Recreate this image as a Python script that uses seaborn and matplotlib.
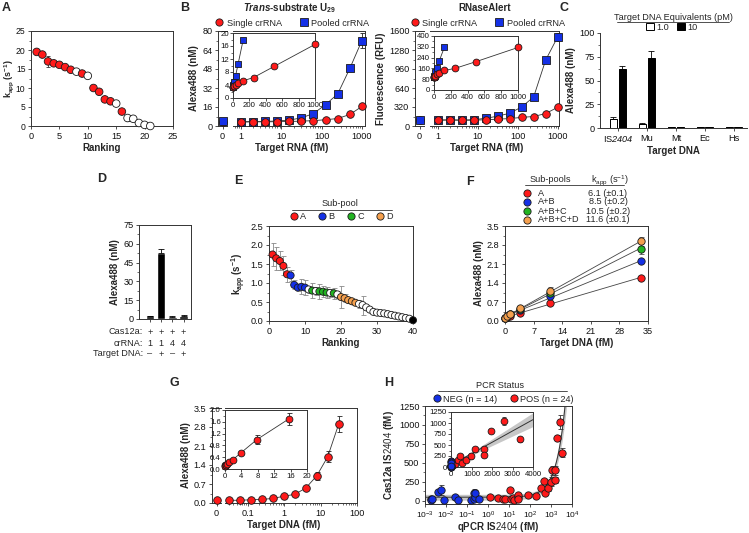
import numpy as np
import pandas as pd
import matplotlib
matplotlib.use("Agg")
import matplotlib.pyplot as plt
import matplotlib.transforms as mtransforms
import seaborn as sns
from matplotlib.ticker import AutoMinorLocator, NullFormatter, FuncFormatter, FormatStrFormatter
from matplotlib.lines import Line2D
from matplotlib.patches import Patch

# ---------------- DATA ----------------
# A
a_rank = list(range(1, 22))
a_kapp = [19.5, 18.8, 17.0, 16.5, 16.1, 15.5, 14.8, 14.3, 13.8, 13.2, 10.0, 9.0, 7.0, 6.5, 5.9, 3.8, 2.1, 1.9, 0.8, 0.3, 0.0]
a_err = [0.3, 0.3, 1.5, 0.3, 0.3, 0.3, 0.3, 0.3, 0.3, 0.3, 0.4, 0.3, 0.3, 0.3, 0.3, 0.3, 0.8, 0.3, 0.3, 0.3, 0.2]
a_selected = [1, 1, 1, 1, 1, 1, 1, 0, 1, 0, 1, 1, 1, 1, 0, 1, 0, 0, 0, 0, 0]

# B (both panels share target concentrations)
b_target = [0, 0.98, 1.95, 3.9, 7.8, 15.6, 31.25, 62.5, 125, 250, 500, 1000]
b_single = [3.5, 3.4, 3.5, 3.5, 3.6, 3.8, 4.1, 4.5, 5.3, 6.3, 9.7, 16.5]
b_pooled = [3.8, 3.5, 3.7, 3.9, 4.2, 5.0, 6.8, 10.5, 18.0, 27.0, 48.5, 72.0]
b_pooled_err = [0.3, 0.3, 0.3, 0.3, 0.3, 0.3, 0.3, 0.3, 0.5, 0.8, 2.5, 6.0]
r_single = [100, 100, 100, 98, 98, 105, 115, 125, 145, 160, 210, 315]
r_pooled = [100, 100, 103, 100, 105, 130, 165, 215, 320, 490, 1110, 1500]
r_pooled_err = [5, 5, 5, 5, 5, 5, 8, 10, 15, 20, 30, 60]

# C
c_targets = ["IS$\\mathsf{2404}$", "Mu", "Mt", "Ec", "Hs"]
c_equiv = ["1.0", "10"]
c_low = [9.5, 4.0, 0.8, 0.6, 0.7]
c_low_err = [2.0, 0.8, 0.3, 0.3, 0.3]
c_high = [62.5, 73.5, 1.0, 0.9, 0.9]
c_high_err = [3.0, 7.5, 0.4, 0.3, 0.3]

# D
d_conditions = ["c1", "c2", "c3", "c4"]
d_values = [2.0, 53.0, 1.8, 2.4]
d_err = [0.4, 3.0, 0.4, 0.5]
d_cas12a = ["+", "+", "+", "+"]
d_crrna = ["1", "1", "4", "4"]
d_target = ["\u2013", "+", "\u2013", "+"]
d_rows = ["Cas12a:", "crRNA:", "Target DNA:"]

# E
e_rank = list(range(1, 41))
e_kapp = [1.75, 1.65, 1.58, 1.45, 1.23, 1.20, 0.95, 0.88, 0.90, 0.88,
          0.83, 0.80, 0.79, 0.78, 0.77, 0.75, 0.74, 0.73, 0.70, 0.63,
          0.60, 0.55, 0.52, 0.48, 0.45, 0.42, 0.36, 0.30, 0.24, 0.22,
          0.21, 0.20, 0.18, 0.16, 0.14, 0.12, 0.10, 0.08, 0.06, 0.02]
e_err = [0.30, 0.30, 0.25, 0.25, 0.20, 0.15, 0.12, 0.10, 0.20, 0.20,
         0.10, 0.20, 0.10, 0.20, 0.15, 0.15, 0.10, 0.15, 0.10, 0.28,
         0.10, 0.05, 0.05, 0.05, 0.10, 0.25, 0.05, 0.05, 0.03, 0.03,
         0.03, 0.03, 0.03, 0.03, 0.03, 0.03, 0.03, 0.03, 0.03, 0.02]
e_pool = ["A"] * 5 + ["B"] * 5 + ["none", "C", "none", "C", "C", "C", "none", "C", "none"] + \
         ["D"] * 5 + ["none"] * 15 + ["ctrl"]
e_pool_labels = ["A", "B", "C", "D"]

# F
f_target = [0, 0.41, 1.23, 3.7, 11.1, 33.3]
f_subpools = ["A", "A+B", "A+B+C", "A+B+C+D"]
f_A = [0.10, 0.15, 0.20, 0.30, 0.65, 1.60]
f_AB = [0.10, 0.18, 0.27, 0.40, 0.92, 2.20]
f_ABC = [0.10, 0.18, 0.25, 0.45, 1.05, 2.67]
f_ABCD = [0.10, 0.18, 0.25, 0.47, 1.12, 2.93]
f_err_ABC = [0.02, 0.02, 0.02, 0.03, 0.08, 0.20]
f_err_ABCD = [0.02, 0.02, 0.02, 0.03, 0.12, 0.15]
f_kapp_text = ["6.1 (\u00b10.1)", "8.5 (\u00b10.2)", "10.5 (\u00b10.2)", "11.6 (\u00b10.1)"]

# G
g_target = [0, 0.0305, 0.061, 0.122, 0.244, 0.488, 0.977, 1.95, 3.9, 7.8, 15.6, 31.25]
g_signal = [0.12, 0.10, 0.10, 0.12, 0.13, 0.17, 0.25, 0.32, 0.55, 1.00, 1.70, 2.90]
g_err = [0.03, 0.03, 0.03, 0.03, 0.03, 0.03, 0.03, 0.03, 0.05, 0.15, 0.20, 0.30]

# H
h_neg_x = [0.0019, 0.0020, 0.0021, 0.004, 0.0058, 0.008, 0.026, 0.037, 0.15, 0.21, 0.22, 0.24, 0.25, 0.36]
h_neg_y = [15, 5, 20, 115, 140, 10, 45, 10, 10, 20, 105, 45, 95, 18]
h_neg_yerr = [10, 5, 10, 30, 70, 10, 20, 10, 10, 15, 50, 20, 40, 10]
h_pos_x = [1.2, 3.0, 5.0, 6.3, 10.6, 12, 15, 17, 27, 27, 28, 83, 187, 325, 455, 537, 748, 975,
           1155, 1626, 1626, 1950, 2570, 3380]
h_pos_y = [44, 31, 20, 18, 140, 18, 30, 9, 44, 75, 18, 79, 61, 170, 255, 100, 170, 247,
           400, 400, 270, 826, 1042, 633]
h_pos_yerr = [10, 10, 10, 10, 30, 10, 10, 10, 20, 20, 10, 20, 20, 20, 30, 30, 40, 60,
              60, 60, 40, 40, 90, 60]

# ---------------- STYLE ----------------
RED, BLUE, GREEN, ORANGE = "#FF1A1A", "#1430E6", "#22B422", "#F5A04E"
EDGE = "#1a1a1a"
TICK = 6.6
LAB = 7
INS = 5.6
LEG = 6.6
MS = 30
MS_IN = 24
sns.set_theme(style="ticks")
plt.rcParams.update({
    "font.family": ["Liberation Sans", "DejaVu Sans"],
    "font.size": TICK,
    "axes.labelsize": LAB, "axes.labelweight": "bold", "axes.labelpad": 2,
    "xtick.labelsize": TICK, "ytick.labelsize": TICK,
    "axes.linewidth": 0.7, "axes.edgecolor": "#333333",
    "xtick.major.size": 2.5, "ytick.major.size": 2.5,
    "xtick.minor.size": 1.5, "ytick.minor.size": 1.5,
    "xtick.major.width": 0.6, "ytick.major.width": 0.6,
    "xtick.minor.width": 0.5, "ytick.minor.width": 0.5,
    "xtick.major.pad": 1.5, "ytick.major.pad": 1.5,
    "xtick.color": "#333333", "ytick.color": "#333333",
    "xtick.labelcolor": "#111111", "ytick.labelcolor": "#111111",
    "mathtext.fontset": "custom",
    "mathtext.rm": "Liberation Sans",
    "mathtext.it": "Liberation Sans:italic:bold",
    "mathtext.bf": "Liberation Sans:bold",
    "mathtext.sf": "Liberation Sans:italic",
    "mathtext.default": "regular",
})

W, H = 749, 533
fig = plt.figure(figsize=(W / 100, H / 100), dpi=100)


def fx(x):
    return x / W


def fy(y):
    return 1 - y / H


def add_ax(l, t, r, b):
    return fig.add_axes([l / W, 1 - b / H, (r - l) / W, (b - t) / H])


def series(ax, x, y, color, marker, yerr=None, s=MS, line=True, clip=False):
    x = np.asarray(x, float)
    y = np.asarray(y, float)
    if yerr is not None:
        ax.errorbar(x, y, yerr=yerr, fmt="none", ecolor="#222222", elinewidth=0.6,
                    capsize=1.8, capthick=0.6, zorder=2)
    if line and len(x) > 1:
        sns.lineplot(x=x, y=y, color="#333333", linewidth=0.6, ax=ax, errorbar=None, zorder=1)
    sns.scatterplot(x=x, y=y, color=color, marker=marker, s=s, edgecolor=EDGE, linewidth=0.6,
                    ax=ax, zorder=3, legend=False, clip_on=clip)


def broken(l, t, r, b, zr, ll, ylim, yticks, xlim_log):
    ax0 = add_ax(l, t, zr, b)
    ax1 = add_ax(ll, t, r, b)
    ax0.set_xlim(-1, 1)
    ax0.set_xticks([0])
    ax0.set_xticklabels(["0"])
    ax0.spines["right"].set_visible(False)
    ax1.spines["left"].set_visible(False)
    ax1.set_xscale("log")
    ax1.set_xlim(*xlim_log)
    ax1.xaxis.set_major_formatter(FuncFormatter(lambda v, p: f"{v:g}"))
    ax1.xaxis.set_minor_formatter(NullFormatter())
    ax1.tick_params(axis="y", which="both", left=False, labelleft=False)
    for a in (ax0, ax1):
        a.set_ylim(*ylim)
        a.set_yticks(yticks)
    ax0.yaxis.set_minor_locator(AutoMinorLocator(2))
    return ax0, ax1


def inset_filter(x, y, xmax, ymax, err=None):
    keep = [i for i in range(len(x)) if x[i] <= xmax and y[i] <= ymax]
    xs = [x[i] for i in keep]
    ys = [y[i] for i in keep]
    es = [err[i] for i in keep] if err is not None else None
    return xs, ys, es


def panel_label(x, y, s):
    fig.text(fx(x), fy(y), s, fontsize=9, weight="bold", ha="left", va="center")


def underline(x1, x2, y):
    fig.add_artist(Line2D([fx(x1), fx(x2)], [fy(y), fy(y)], transform=fig.transFigure,
                          color="#333333", lw=0.6))


def mk(color, marker="o", size=5.2):
    return Line2D([], [], marker=marker, ls="none", markerfacecolor=color,
                  markeredgecolor=EDGE, markersize=size, markeredgewidth=0.6)


def style_inset(ax):
    ax.tick_params(labelsize=INS, length=2, pad=1)
    ax.yaxis.set_minor_locator(AutoMinorLocator(2))
    ax.set_xlabel("")
    ax.set_ylabel("")


# ---------------- PANEL A ----------------
axA = add_ax(31, 31, 173, 126)
dfA = pd.DataFrame(dict(rank=a_rank, kapp=a_kapp, err=a_err, sel=a_selected))
axA.errorbar(dfA["rank"], dfA["kapp"], yerr=dfA["err"], fmt="none", ecolor="#333333",
             elinewidth=0.6, capsize=1.5, capthick=0.6, zorder=1)
sns.scatterplot(data=dfA, x="rank", y="kapp", hue="sel", palette={1: RED, 0: "white"},
                edgecolor=EDGE, linewidth=0.6, s=MS, legend=False, ax=axA, zorder=3, clip_on=False)
axA.set(xlim=(0, 25), ylim=(0, 25), xticks=range(0, 26, 5), yticks=range(0, 26, 5))
axA.yaxis.set_minor_locator(AutoMinorLocator(2))
axA.tick_params(axis="y", labelsize=6.2)
axA.set_xlabel("Ranking")
axA.set_ylabel("k$_{app}$ (s$^{-1}$)", fontsize=6.4)
axA.yaxis.set_label_coords(-0.105, 0.5)
panel_label(2, 8, "A")

# ---------------- PANEL B (two sub-panels) ----------------
b_x = np.array(b_target, float)
nz = b_x > 0

for (l, zr, ll, r, xr, ylim, yt, sing, pool, perr, title, ylab, ins_box, ins_y, ins_yt) in [
    (218, 227, 233, 365, (0.63, 1190), (0, 80), range(0, 81, 16), b_single, b_pooled, b_pooled_err,
     "$\\mathit{Trans}$-substrate U$_{29}$", "Alexa488 (nM)", (233, 33, 315, 98), 20, range(0, 21, 4)),
    (415, 424, 430, 559, (0.63, 1080), (0, 1600), range(0, 1601, 320), r_single, r_pooled, r_pooled_err,
     "RNaseAlert", "Fluorescence (RFU)", (434, 36, 518, 90), 400, range(0, 401, 80)),
]:
    ax0, ax1 = broken(l, 31, r, 126, zr, ll, ylim, yt, xr)
    sing = np.asarray(sing, float)
    pool = np.asarray(pool, float)
    perr = np.asarray(perr, float)
    series(ax0, b_x[~nz], sing[~nz], RED, "o", line=False)
    series(ax0, b_x[~nz], pool[~nz], BLUE, "s", line=False)
    series(ax1, b_x[nz], pool[nz], BLUE, "s", yerr=perr[nz])
    series(ax1, b_x[nz], sing[nz], RED, "o")
    ax0.set_ylabel(ylab)
    fig.text(fx((l + r) / 2), fy(148), "Target RNA (fM)", ha="center", va="center",
             fontsize=LAB, weight="bold")
    fig.text(fx((l + r) / 2 - 2), fy(8), title, ha="center", va="center", fontsize=LAB, weight="bold")
    fig.legend([mk(RED), mk(BLUE, "s")], ["Single crRNA", "Pooled crRNA"], loc="center",
               bbox_to_anchor=(fx((l + r) / 2), fy(23)), ncol=2, frameon=False, fontsize=LEG,
               handletextpad=0.2, columnspacing=1.8, handlelength=1.2, borderpad=0)
    ins = add_ax(*ins_box)
    ins.set(xlim=(0, 1000), ylim=(0, ins_y), xticks=range(0, 1001, 200), yticks=ins_yt)
    px, py, pe = inset_filter(list(b_x), list(pool), 1000, ins_y)
    sx, sy, _ = inset_filter(list(b_x), list(sing), 1000, ins_y)
    series(ins, px, py, BLUE, "s", s=MS_IN)
    series(ins, sx, sy, RED, "o", s=MS_IN)
    style_inset(ins)

panel_label(180, 8, "B")

# ---------------- PANEL C ----------------
axC = add_ax(600, 33, 747, 128)
dfC = pd.DataFrame({
    "target": c_targets * 2,
    "equiv": [c_equiv[0]] * 5 + [c_equiv[1]] * 5,
    "signal": c_low + c_high,
    "err": c_low_err + c_high_err,
})
sns.barplot(data=dfC, x="target", y="signal", hue="equiv", hue_order=c_equiv,
            palette={c_equiv[0]: "white", c_equiv[1]: "black"}, edgecolor="black", linewidth=0.7,
            width=0.62, gap=0.12, errorbar=None, saturation=1, ax=axC, legend=False)
for cont, errs in zip(axC.containers, [c_low_err, c_high_err]):
    xs = [p.get_x() + p.get_width() / 2 for p in cont]
    hs = [p.get_height() for p in cont]
    axC.errorbar(xs, hs, yerr=[[0] * len(errs), errs], fmt="none", ecolor="black",
                 elinewidth=0.6, capsize=2, capthick=0.6, zorder=3)
axC.set(ylim=(0, 100), yticks=range(0, 101, 25), xlim=(-0.62, 4.45))
axC.yaxis.set_minor_locator(AutoMinorLocator(2))
sns.despine(ax=axC)
axC.set_xlabel("Target DNA")
axC.set_ylabel("Alexa488 (nM)")
fig.text(fx(673), fy(17), "Target DNA Equivalents (pM)", ha="center", va="center", fontsize=LEG)
underline(617, 729, 21.5)
fig.legend([Patch(facecolor="white", edgecolor="black", lw=0.7),
            Patch(facecolor="black", edgecolor="black", lw=0.7)], c_equiv,
           loc="center", bbox_to_anchor=(fx(672), fy(27.5)), ncol=2, frameon=False, fontsize=LEG,
           handlelength=0.8, handleheight=0.8, handletextpad=0.3, columnspacing=0.9, borderpad=0)
panel_label(560, 8, "C")

# ---------------- PANEL D ----------------
axD = add_ax(139, 225, 191, 319)
sns.barplot(x=d_conditions, y=d_values, color="black", width=0.75, saturation=1,
            errorbar=None, ax=axD)
axD.errorbar(list(range(4)), d_values, yerr=[[0] * 4, d_err], fmt="none", ecolor="black",
             elinewidth=0.6, capsize=2, capthick=0.6, zorder=3)
axD.set(ylim=(0, 75), yticks=range(0, 76, 15), xlim=(-0.95, 3.65))
axD.yaxis.set_minor_locator(AutoMinorLocator(2))
axD.set_xticks(range(4))
axD.set_xticklabels([])
axD.set_xlabel("")
axD.set_ylabel("Alexa488 (nM)")
trD = mtransforms.blended_transform_factory(axD.transData, fig.transFigure)
for row_label, row_vals, yy in zip(d_rows, [d_cas12a, d_crrna, d_target], [332, 343, 354]):
    fig.text(fx(143), fy(yy), row_label, ha="right", va="center", fontsize=TICK)
    for i, v in enumerate(row_vals):
        axD.text(i, fy(yy), v, transform=trD, ha="center", va="center", fontsize=TICK)
panel_label(97, 179, "D")

# ---------------- PANEL E ----------------
axE = add_ax(269, 226, 413, 321)
dfE = pd.DataFrame(dict(rank=e_rank, kapp=e_kapp, err=e_err, pool=e_pool))
axE.errorbar(dfE["rank"], dfE["kapp"], yerr=dfE["err"], fmt="none", ecolor="#888888",
             elinewidth=0.6, capsize=1.8, capthick=0.6, zorder=1)
e_pal = {"A": RED, "B": BLUE, "C": GREEN, "D": ORANGE, "none": "white", "ctrl": "black"}
sns.scatterplot(data=dfE, x="rank", y="kapp", hue="pool", palette=e_pal, edgecolor=EDGE,
                linewidth=0.6, s=MS - 4, legend=False, ax=axE, zorder=3, clip_on=False)
axE.set(xlim=(0, 40), ylim=(0, 2.5), xticks=range(0, 41, 10), yticks=np.arange(0, 2.51, 0.5))
axE.yaxis.set_major_formatter(FormatStrFormatter("%.1f"))
axE.yaxis.set_minor_locator(AutoMinorLocator(2))
axE.set_xlabel("Ranking")
axE.set_ylabel("k$_{app}$ (s$^{-1}$)")
fig.text(fx(340), fy(204), "Sub-pool", ha="center", va="center", fontsize=LEG)
underline(292, 392, 209.5)
fig.legend([mk(e_pal[p]) for p in e_pool_labels], e_pool_labels, loc="center",
           bbox_to_anchor=(fx(341), fy(216.5)), ncol=4, frameon=False, fontsize=LEG,
           handletextpad=0.15, columnspacing=1.3, handlelength=1.0, borderpad=0)
panel_label(234, 181, "E")

# ---------------- PANEL F ----------------
axF = add_ax(505, 226, 648, 321)
f_vals = [f_A, f_AB, f_ABC, f_ABCD]
f_errs = [None, None, f_err_ABC, f_err_ABCD]
f_cols = [RED, BLUE, GREEN, ORANGE]
for vals in f_vals:
    sns.regplot(x=np.array(f_target), y=np.array(vals), scatter=False, ci=None, color="#444444",
                line_kws={"lw": 0.6}, ax=axF)
for vals, errs, col in zip(f_vals, f_errs, f_cols):
    if errs is not None:
        axF.errorbar(f_target, vals, yerr=errs, fmt="none", ecolor="#555555", elinewidth=0.6,
                     capsize=1.8, capthick=0.6, zorder=2)
for vals, col in zip(f_vals, f_cols):
    sns.scatterplot(x=np.array(f_target), y=np.array(vals), color=col, s=MS - 2, edgecolor=EDGE,
                    linewidth=0.6, ax=axF, zorder=3, legend=False, clip_on=False)
axF.set(xlim=(0, 35), ylim=(0, 3.5), xticks=range(0, 36, 7), yticks=np.arange(0, 3.51, 0.7))
axF.yaxis.set_major_formatter(FormatStrFormatter("%.1f"))
axF.yaxis.set_minor_locator(AutoMinorLocator(2))
axF.set_xlabel("Target DNA (fM)")
axF.set_ylabel("Alexa488 (nM)")
fig.text(fx(550), fy(180), "Sub-pools", ha="center", va="center", fontsize=LEG)
fig.text(fx(610), fy(180), "k$_{app}$ (s$^{-1}$)", ha="center", va="center", fontsize=LEG)
underline(525, 624, 185.5)
for lab, txt, col, yy in zip(f_subpools, f_kapp_text, f_cols, [193, 202, 211, 220]):
    fig.add_artist(Line2D([fx(527)], [fy(yy)], marker="o", ls="none", markerfacecolor=col,
                          markeredgecolor=EDGE, markersize=5.2, markeredgewidth=0.6,
                          transform=fig.transFigure))
    fig.text(fx(538), fy(yy), lab, ha="left", va="center", fontsize=LEG)
    fig.text(fx(608), fy(yy), txt, ha="center", va="center", fontsize=LEG)
panel_label(466, 182, "F")

# ---------------- PANEL G ----------------
g_x = np.array(g_target, float)
g_y = np.array(g_signal, float)
g_e = np.array(g_err, float)
gnz = g_x > 0
gax0, gax1 = broken(212, 408, 357, 503, 221, 225, (0, 3.5), np.arange(0, 3.51, 0.7), (0.0234, 100))
gax0.yaxis.set_major_formatter(FormatStrFormatter("%.1f"))
series(gax0, g_x[~gnz], g_y[~gnz], RED, "o", line=False)
series(gax1, g_x[gnz], g_y[gnz], RED, "o", yerr=g_e[gnz])
gax0.set_ylabel("Alexa488 (nM)")
fig.text(fx(284), fy(525), "Target DNA (fM)", ha="center", va="center", fontsize=LAB, weight="bold")
insG = add_ax(225, 410, 307, 469)
insG.set(xlim=(0, 20), ylim=(0, 2.0), xticks=range(0, 21, 4), yticks=np.arange(0, 2.01, 0.4))
insG.yaxis.set_major_formatter(FormatStrFormatter("%.1f"))
gx_i, gy_i, ge_i = inset_filter(list(g_x), list(g_y), 20, 2.0, list(g_e))
series(insG, gx_i, gy_i, RED, "o", yerr=ge_i, s=MS_IN)
style_inset(insG)
panel_label(170, 383, "G")

# ---------------- PANEL H ----------------
axH = add_ax(425, 406, 572, 504)
all_x = np.array(h_neg_x + h_pos_x, float)
all_y = np.array(h_neg_y + h_pos_y, float)
slope, icpt = np.polyfit(all_x, all_y, 1)
n = len(all_x)
resid = all_y - (icpt + slope * all_x)
s_res = np.sqrt(np.sum(resid ** 2) / (n - 2))
sxx = np.sum((all_x - all_x.mean()) ** 2)


def fit_band(xg):
    yhat = icpt + slope * xg
    se = s_res * np.sqrt(1.0 / n + (xg - all_x.mean()) ** 2 / sxx)
    return yhat, yhat - 2.03 * se, yhat + 2.03 * se


xg = np.logspace(-3, 4, 300)
yh, lo, hi = fit_band(xg)
axH.set_xscale("log")
axH.fill_between(xg, lo, hi, color="#9a9a9a", alpha=0.55, lw=0, zorder=1)
sns.lineplot(x=xg, y=yh, color="#333333", lw=0.7, ax=axH, zorder=1.5)
axH.errorbar(h_neg_x, h_neg_y, yerr=h_neg_yerr, fmt="none", ecolor="#333333", elinewidth=0.6,
             capsize=1.8, capthick=0.6, zorder=2)
axH.errorbar(h_pos_x, h_pos_y, yerr=h_pos_yerr, fmt="none", ecolor="#333333", elinewidth=0.6,
             capsize=1.8, capthick=0.6, zorder=2)
sns.scatterplot(x=h_neg_x, y=h_neg_y, color=BLUE, s=MS - 2, edgecolor=EDGE, linewidth=0.6, ax=axH,
                zorder=3, legend=False)
sns.scatterplot(x=h_pos_x, y=h_pos_y, color=RED, s=MS - 2, edgecolor=EDGE, linewidth=0.6, ax=axH,
                zorder=3, legend=False)
axH.set(xlim=(1e-3, 1e4), ylim=(-45, 1250), yticks=range(0, 1251, 250))
axH.set_xticks([10.0 ** k for k in range(-3, 5)])
axH.xaxis.set_minor_formatter(NullFormatter())
axH.yaxis.set_minor_locator(AutoMinorLocator(2))
axH.tick_params(axis="x", labelsize=6)
axH.set_xlabel("")
fig.text(fx(498), fy(526.5), "qPCR IS$\\mathit{2404}$ (fM)", ha="center", va="center",
         fontsize=LAB, weight="bold")
axH.set_ylabel("Cas12a IS$\\mathit{2404}$ (fM)")

insH = add_ax(451, 412, 533, 467)
xl = np.linspace(0, 4000, 200)
yh2, lo2, hi2 = fit_band(xl)
insH.fill_between(xl, lo2, hi2, color="#9a9a9a", alpha=0.55, lw=0, zorder=1)
sns.lineplot(x=xl, y=yh2, color="#333333", lw=0.7, ax=insH, zorder=1.5)
insH.errorbar(h_pos_x, h_pos_y, yerr=h_pos_yerr, fmt="none", ecolor="#333333", elinewidth=0.6,
              capsize=1.5, capthick=0.6, zorder=2)
sns.scatterplot(x=h_pos_x, y=h_pos_y, color=RED, s=MS_IN, edgecolor=EDGE, linewidth=0.6, ax=insH,
                zorder=3, legend=False, clip_on=False)
sns.scatterplot(x=h_neg_x, y=h_neg_y, color=BLUE, s=MS_IN, edgecolor=EDGE, linewidth=0.6, ax=insH,
                zorder=3, legend=False, clip_on=False)
insH.set(xlim=(0, 4000), ylim=(0, 1250), xticks=range(0, 4001, 1000), yticks=range(0, 1251, 250))
style_inset(insH)
fig.text(fx(500), fy(385), "PCR Status", ha="center", va="center", fontsize=LEG)
underline(438, 567, 390.5)
fig.legend([mk(BLUE), mk(RED)], ["NEG (n = 14)", "POS (n = 24)"], loc="center",
           bbox_to_anchor=(fx(503), fy(399)), ncol=2, frameon=False, fontsize=LEG,
           handletextpad=0.15, columnspacing=1.4, handlelength=1.0, borderpad=0)
panel_label(384, 383, "H")

fig.savefig("out.png", dpi=100)
